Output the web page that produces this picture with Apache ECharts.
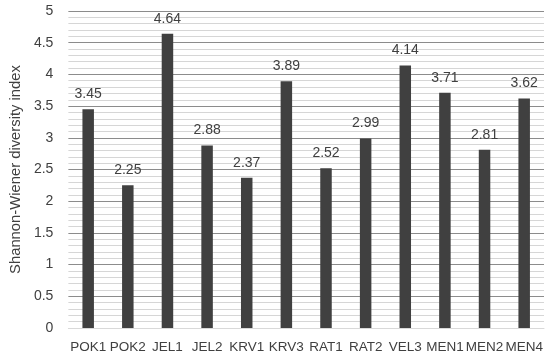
<!DOCTYPE html>
<html><head><meta charset="utf-8">
<script src="https://cdn.jsdelivr.net/npm/echarts@6/dist/echarts.min.js"></script>
<style>html,body{margin:0;padding:0;background:#fff}#c{width:550px;height:359px}</style>
</head><body><div id="c"></div>
<script>
const categories = ["POK1","POK2","JEL1","JEL2","KRV1","KRV3","RAT1","RAT2","VEL3","MEN1","MEN2","MEN4"];
const values = [3.45,2.25,4.64,2.88,2.37,3.89,2.52,2.99,4.14,3.71,2.81,3.62];
const yTicks = {min:0, max:5, interval:0.5};
const font = "'Liberation Sans', Arial, sans-serif";
const chart = echarts.init(document.getElementById('c'));
chart.setOption({
  animation:false,
  grid:{left:60,right:6,top:11,bottom:31},
  xAxis:{type:'category',data:categories,
    axisLine:{show:true,lineStyle:{color:'#d9d9d9'}},axisTick:{show:false},
    axisLabel:{color:'#404040',fontFamily:font,fontSize:13.5,margin:12,interval:0}},
  yAxis:{type:'value',min:yTicks.min,max:yTicks.max,interval:yTicks.interval,
    name:'Shannon-Wiener diversity index',nameLocation:'middle',nameGap:45,
    nameTextStyle:{color:'#404040',fontFamily:font,fontSize:14.8},
    axisLine:{show:false},axisTick:{show:false},
    axisLabel:{color:'#404040',fontFamily:font,fontSize:14,margin:15,
      formatter:v=>String(Math.round(v*10)/10)},
    splitLine:{lineStyle:{color:'#8c8c8c',width:1}},
    minorTick:{show:false,splitNumber:5},
    minorSplitLine:{show:true,lineStyle:{color:'#d6d6d6',width:1}}},
  series:[{type:'bar',data:values,barWidth:11.5,
    itemStyle:{color:'#404040'},
    label:{show:true,position:'top',distance:8,color:'#404040',fontFamily:font,fontSize:14,
      formatter:p=>String(p.value)}}]
});
</script></body></html>
